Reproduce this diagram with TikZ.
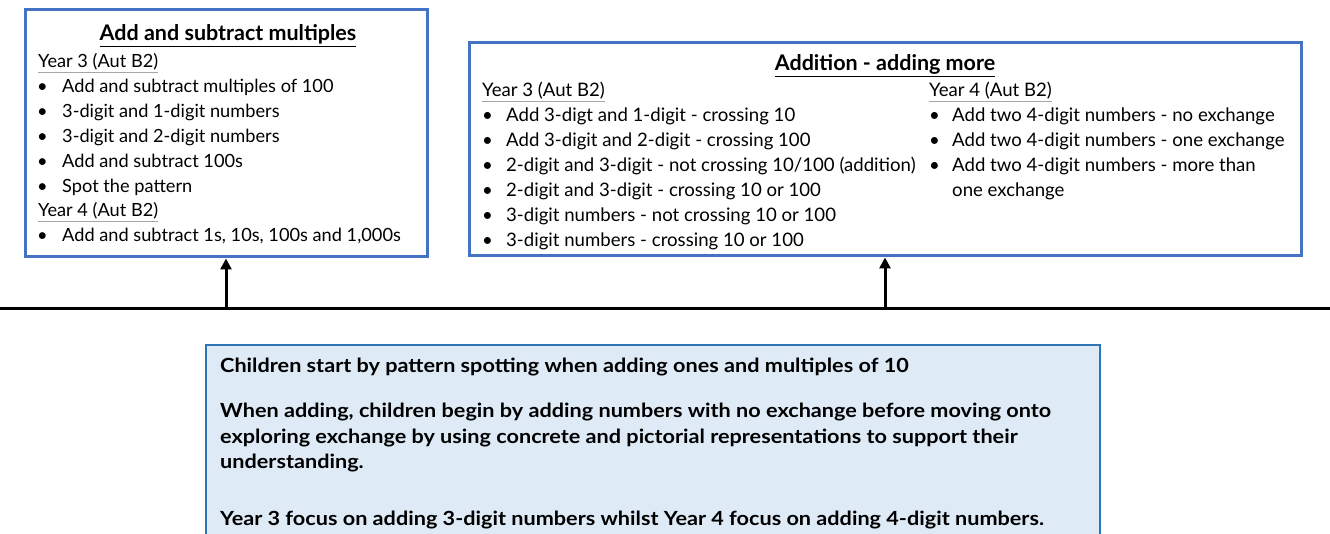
\documentclass[tikz,border=0pt]{standalone}
\usepackage{fontspec}
\setmainfont{Lato}
\newfontfamily\notefont[FakeStretch=1.11]{Lato}
\usetikzlibrary{arrows.meta}
\definecolor{boxblue}{HTML}{4472C4}
\definecolor{notefill}{HTML}{DEEBF7}
\definecolor{noteline}{HTML}{2E75B6}
\definecolor{ulgrey}{HTML}{A6A6A6}
\tikzset{
  topic/.style={draw=boxblue,line width=3pt,rectangle,inner sep=0pt},
  note/.style={draw=noteline,fill=notefill,line width=2pt,rectangle,inner sep=0pt},
  lna/.style={anchor=base west,inner sep=0pt,font=\fontsize{18.2}{20}\selectfont},
  lnb/.style={anchor=base west,inner sep=0pt,font=\fontsize{18.6}{20}\selectfont},
  ttl/.style={anchor=base,inner sep=0pt,font=\fontsize{21.5}{24}\selectfont\bfseries},
  nl/.style={anchor=base west,inner sep=0pt,font=\notefont\fontsize{19.5}{22}\selectfont\bfseries},
  arr/.style={line width=3pt,-{Triangle[length=11pt,width=11pt]}},
}
\newcommand{\yr}[1]{{\color{ulgrey}$\underline{\hbox{\color{black}#1}}$}}
\begin{document}
\begin{tikzpicture}[x=1pt,y=-1pt]
\useasboundingbox (0,0) rectangle (1330,534);
% boxes
\node[topic,minimum width=402pt,minimum height=247pt] (b1) at (226,133.5) {};
\node[topic,minimum width=832pt,minimum height=213pt] (b2) at (885,149.5) {};
\node[note,minimum width=894pt,minimum height=220pt] (b3) at (653,455) {};
% timeline
\coordinate (l0) at (0,309);
\coordinate (l1) at (1330,309);
\draw[line width=3pt] (l0) -- (l1);
\coordinate (a1) at (226,309);
\coordinate (a2) at (885,309);
\draw[arr] (a1) -- (b1.south);
\draw[arr] (a2) -- (b2.south);
% box 1 text
\node[ttl] (t1) at (228,41) {\underline{Add and subtract multiples}};
\node[lna] (t1y3) at (38,68) {\yr{Year 3 (Aut B2)}};
\node[lna] (t1b1) at (37,93) {\textbullet};
\node[lna] (t1l1) at (62,93) {Add and subtract multiples of 100};
\node[lna] (t1b2) at (37,118) {\textbullet};
\node[lna] (t1l2) at (62,118) {3-digit and 1-digit numbers};
\node[lna] (t1b3) at (37,143) {\textbullet};
\node[lna] (t1l3) at (62,143) {3-digit and 2-digit numbers};
\node[lna] (t1b4) at (37,168) {\textbullet};
\node[lna] (t1l4) at (62,168) {Add and subtract 100s};
\node[lna] (t1b5) at (37,193) {\textbullet};
\node[lna] (t1l5) at (62,193) {Spot the pattern};
\node[lna] (t1y4) at (38,217) {\yr{Year 4 (Aut B2)}};
\node[lna] (t1b6) at (37,242) {\textbullet};
\node[lna] (t1l6) at (62,242) {Add and subtract 1s, 10s, 100s and 1,000s};
% box 2 text
\node[ttl] (t2) at (885,71) {\underline{Addition - adding more}};
\node[lnb] (t2y3) at (482,97) {\yr{Year 3 (Aut B2)}};
\node[lnb] (t2b1) at (482,122) {\textbullet};
\node[lnb] (t2l1) at (506,122) {Add 3-digt and 1-digit - crossing 10};
\node[lnb] (t2b2) at (482,147) {\textbullet};
\node[lnb] (t2l2) at (506,147) {Add 3-digit and 2-digit - crossing 100};
\node[lnb] (t2b3) at (482,172) {\textbullet};
\node[lnb] (t2l3) at (506,172) {2-digit and 3-digit - not crossing 10/100 (addition)};
\node[lnb] (t2b4) at (482,197) {\textbullet};
\node[lnb] (t2l4) at (506,197) {2-digit and 3-digit - crossing 10 or 100};
\node[lnb] (t2b5) at (482,222) {\textbullet};
\node[lnb] (t2l5) at (506,222) {3-digit numbers - not crossing 10 or 100};
\node[lnb] (t2b6) at (482,247) {\textbullet};
\node[lnb] (t2l6) at (506,247) {3-digit numbers - crossing 10 or 100};
\node[lnb] (t2y4) at (929,97) {\yr{Year 4 (Aut B2)}};
\node[lnb] (t2c1) at (929,122) {\textbullet};
\node[lnb] (t2m1) at (952,122) {Add two 4-digit numbers - no exchange};
\node[lnb] (t2c2) at (929,147) {\textbullet};
\node[lnb] (t2m2) at (952,147) {Add two 4-digit numbers - one exchange};
\node[lnb] (t2c3) at (929,172) {\textbullet};
\node[lnb] (t2m3) at (952,172) {Add two 4-digit numbers - more than};
\node[lnb] (t2m4) at (952,197) {one exchange};
% note text
\node[nl] (n1) at (220,372) {Children start by pattern spotting when adding ones and multiples of 10};
\node[nl] (n2) at (220,417) {When adding, children begin by adding numbers with no exchange before moving onto};
\node[nl] (n3) at (220,443) {exploring exchange by using concrete and pictorial representations to support their};
\node[nl] (n4) at (220,468) {understanding.};
\node[nl] (n5) at (220,525) {Year 3 focus on adding 3-digit numbers whilst Year 4 focus on adding 4-digit numbers.};
\end{tikzpicture}
\end{document}
